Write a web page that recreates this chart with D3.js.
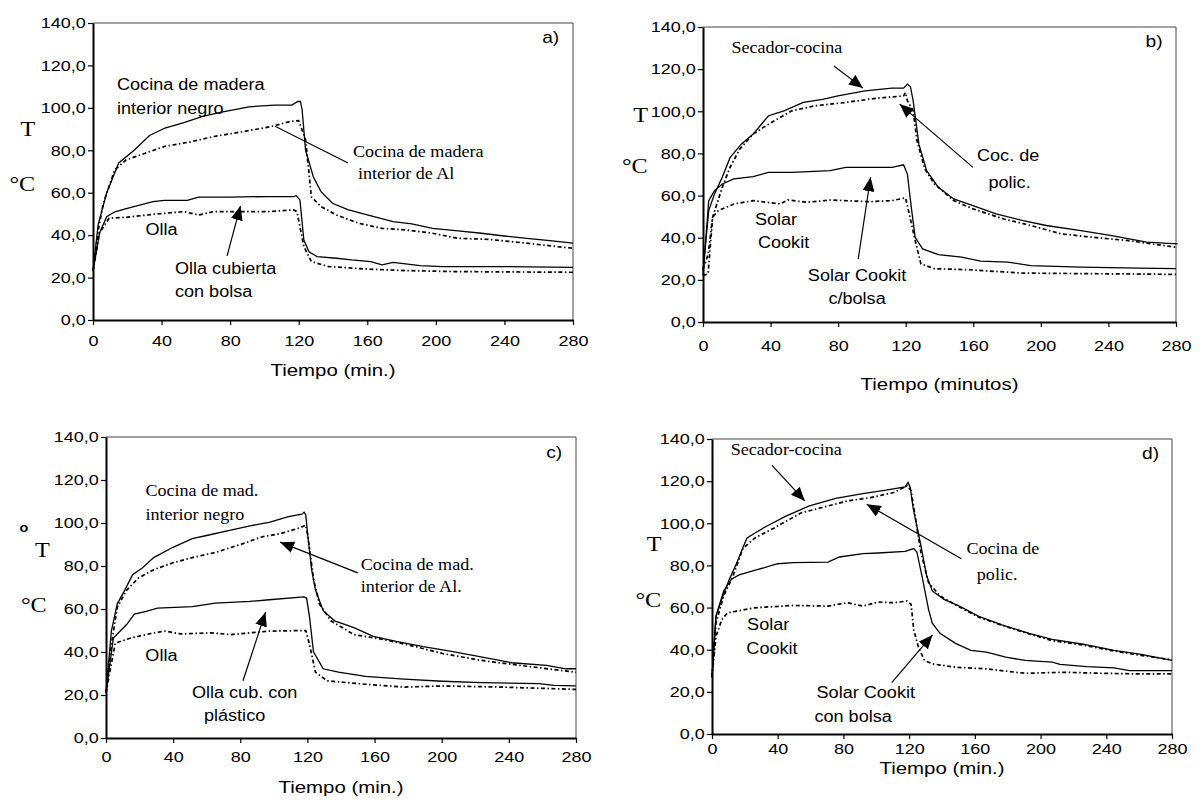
<!DOCTYPE html>
<html>
<head>
<meta charset="utf-8">
<script src="https://cdn.jsdelivr.net/npm/d3@7/dist/d3.min.js"></script>
<style>
  body { margin: 0; background: #fff; }
  svg { display: block; }
</style>
</head>
<body>
<svg id="chart" width="1203" height="802"></svg>
<script>
// ticks
var xTicks = [0, 40, 80, 120, 160, 200, 240, 280];
var yTicks = [0, 20, 40, 60, 80, 100, 120, 140];

// a) cocina de madera / olla  -- [minutos, °C]
var madNegroA = [[0,23],[3,45],[8,60],[15,74],[24,80],[33,87],[42,90.5],[53,93],[64,96],[75,98],[91,100.5],[106,101.3],[116,101.3],[119.5,103],[121,103],[122,99],[124,80],[128.5,67.5],[133,60.5],[139.7,55],[148.6,52],[160,49.5],[175,46.4],[186,45.3],[198,43.2],[213,42],[226.5,40.9],[240,39.6],[253,38.5],[266.5,37.4],[280,36.2]];
var madAlA = [[0,23],[3,42],[6,55],[12.7,70.8],[19.4,75.5],[30.5,78.6],[41.6,81.8],[57,84],[70.6,86.5],[88.4,88.9],[104,91.2],[115,93.6],[120,94],[124,85],[127.4,58],[133,53.5],[142,49.5],[155,45.6],[168.6,43.2],[182,42.5],[198,40.9],[213,38.5],[231,38],[253,36.2],[280,33.8]];
var ollaA = [[0,23],[3.8,41],[8,48.7],[12.7,51],[21.6,53],[35,55.8],[41.6,56.4],[55,56.4],[61.7,57.9],[79.5,57.9],[101.8,58.2],[117,58.2],[118.5,58.6],[120.7,56.6],[123,37.7],[126,32.2],[130.7,29.9],[142,29.1],[150.8,28.3],[162,27.5],[168.6,26],[175,27.2],[190.8,25.6],[204,25.2],[235,25.2],[280,24.8]];
var ollaBolsaA = [[0,23],[3.8,41],[9.4,48],[19.4,48.4],[35,49.8],[53,51.1],[61.7,49.5],[70.6,51.1],[102,51.1],[117,51.9],[119,51],[123,34.6],[127.4,27.5],[137.5,25.2],[160,24],[182,23.3],[213,22.8],[280,22.5]];

// b) secador-cocina / policarbonato / solar cookit
var secadorB = [[0,24],[3.4,52.9],[6.8,60.8],[11.4,68.7],[16,78],[22.8,84.5],[29.7,89.2],[38.8,97.9],[47.9,100.2],[59.4,104.2],[70.8,105.7],[79.9,107.3],[95.9,109.7],[111.9,111],[118.7,111],[121,112.9],[122.8,111.6],[124.4,105],[127.8,84.4],[132.4,71.8],[139.3,63.9],[148.4,58.4],[159.8,55.2],[173.5,51.3],[189.5,48.1],[203.2,45.8],[223.7,43.4],[242,41],[262.6,37.9],[281,37.1]];
var policB = [[0,25],[3,32],[5.7,49.7],[11.4,63.9],[16,73.4],[21.7,82],[29.7,89.2],[38.8,93.9],[52.5,100.2],[66.2,102.6],[84.5,104.2],[102.7,106.2],[118.7,107.3],[119.9,108.9],[121,105],[124.4,100.2],[126.7,86],[131.3,72.6],[137,65.5],[148.4,57.6],[159.8,53.7],[178,48.9],[194,45.8],[212.3,41.8],[230.6,40.2],[251,38.7],[280,35.5]];
var cookitB = [[0,22],[3.4,57.6],[6.8,62.3],[11.4,65.5],[18.3,67.9],[29.7,69],[38.8,71],[52.5,71],[75.3,71.8],[84.5,73.4],[111.9,73.4],[118.7,74.6],[121,70.2],[123.3,54.4],[125.6,40.2],[130,34.7],[139.3,32],[153,30.8],[164.4,28.9],[180.4,28.4],[194,26.8],[223.7,26],[258,25.6],[280,25.3]];
var cookitBolsaB = [[0,22],[3,22.9],[5.7,49.7],[9.1,52.9],[18.3,56],[29.7,57.6],[45.7,56],[50.2,57.9],[61.6,56.8],[75.3,57.9],[98.2,57.1],[111.9,57.6],[119.9,58.9],[122.1,51.3],[125.6,38.7],[129,27.6],[137,25.3],[157.5,24.8],[189.5,23.2],[235,22.9],[280,22.6]];

// c) cocina de madera / olla con plastico
var madNegroC = [[0,21],[3.2,49.7],[6.7,62.4],[11.2,68.8],[15.8,76],[21.6,79.1],[28.4,83.9],[39.9,88.7],[51.4,92.7],[60.6,94.3],[74.3,96.7],[85.8,98.7],[97.2,100.3],[108.7,103],[116.7,104.1],[118,105],[119,103.8],[120.2,94.3],[122.5,78.3],[124.8,68.8],[129.4,59.2],[136.2,54.5],[147.7,51.3],[159.2,47.3],[172.9,44.9],[189,42.5],[205,40.4],[223.4,37.7],[241.7,35],[262.4,33.8],[273.9,32.2],[280,32.2]];
var madAlC = [[0,21],[3.2,43.3],[6.7,60.8],[12.4,68.8],[19.3,74.4],[28.4,78.3],[39.9,81.5],[51.4,83.9],[65.1,86.3],[81.2,90.3],[92.7,93.5],[104.1,95.1],[115.6,97.8],[119,99],[120.2,94.3],[123.7,73.6],[127.1,62.4],[134,54.5],[147.7,48.1],[166.1,45.7],[184.4,42.5],[200.5,39.3],[223.4,36.1],[246.4,33.8],[280,30.6]];
var ollaC = [[0,21],[4.4,46.5],[12.4,52.9],[16.9,57.6],[23.9,58.9],[30.7,60.4],[51.4,61.1],[65.1,62.7],[85.8,63.5],[97.2,64.3],[117.9,65.6],[119.5,65.1],[121.3,56],[123.6,40.1],[129.4,32.2],[138.5,30.6],[154.6,28.7],[177.5,27.4],[200.5,26.4],[223.4,25.8],[257.8,25.3],[267,24.5],[280,24.2]];
var ollaPlasticoC = [[0,21],[5.5,44.1],[14.7,46.5],[28.4,48.9],[35.3,49.7],[44.5,48.4],[62.8,48.9],[74.3,48.1],[97.2,49.7],[119,50],[121.3,43.3],[124.8,30.6],[131.7,26.6],[154.6,25],[177.5,23.7],[200.5,24.2],[234.9,23.7],[280,22.6]];

// d) secador-cocina / policarbonato / solar cookit
var secadorD = [[0,26.9],[2.4,55.8],[5.9,63.9],[10.6,73.5],[15.3,81.6],[21.2,92.9],[25.9,95.3],[32.9,98.5],[44.7,103.3],[58.8,108.1],[75.3,111.8],[91.8,114.1],[105.9,115.7],[117.6,117.3],[119.3,119.4],[120.7,117],[122.4,107.3],[127.1,89.6],[130.6,75.2],[134.1,67.9],[141.2,63.9],[150.6,60.7],[162.4,55.8],[176.5,51.8],[193,47.8],[207.1,44.9],[225.9,42.6],[244.7,39.7],[261.2,37.8],[280,34.9]];
var policD = [[0,26.9],[2.4,52.6],[7.1,65.5],[12.9,75.2],[18.8,88],[25.9,92.9],[37.6,97.7],[54.1,104.9],[65.9,107.3],[82.4,110.6],[96.5,112.2],[110.6,114.6],[118.8,117.8],[121.2,115.4],[123.5,104.1],[127.1,86.4],[131.8,71.9],[138.8,65.5],[150.6,60.3],[162.4,55.4],[178.8,51],[193,47.5],[207.1,44.3],[225.9,42.2],[244.7,39.4],[261.2,37.3],[280,35.2]];
var cookitD = [[0,26.9],[2.4,55.8],[7.1,67.9],[11.8,73.5],[16.5,75.5],[25.9,77.6],[40,80.8],[49.4,81.3],[70.6,81.6],[77.6,84],[91.8,85.6],[101.2,85.9],[117.6,86.7],[122.8,88],[124.7,86.4],[128.2,73.5],[131.8,59.1],[134.1,52.6],[138.8,47.8],[148.2,43],[157.6,39.7],[167.1,38.9],[178.8,36.5],[190.6,34.9],[207.1,34.1],[211.8,33],[228.2,32],[244.7,31.4],[254.1,30.1],[280,30.1]];
var cookitBolsaD = [[0,26.9],[2.4,46.2],[5.9,54.2],[9.4,57.5],[25.9,59.9],[49.4,61],[70.6,60.7],[82.4,62.3],[91.8,60.7],[101.2,62.6],[110.6,62.3],[118.8,63.1],[121.2,61.5],[122.8,49.4],[125.9,40.6],[129.4,34.9],[134.1,33.3],[148.2,31.7],[167.1,30.9],[190.6,28.8],[214.1,29.3],[237.6,28.8],[261.2,28.5],[280,28.5]];

var SANS = "'Liberation Sans', Arial, sans-serif";
var SERIF = "'Liberation Serif', 'Times New Roman', serif";
var SX = 1.2; // the original figure is stretched horizontally

/* panels: box in page pixels, notes placed in data units */
var panels = [
    { id: "a", box: [93, 23, 573, 320], title: "Tiempo (min.)", tickPad: 10, titleY: 50,
      solid: [madNegroA, ollaA], dashed: [madAlA, ollaBolsaA],
      unit: { T: [-65, 90.2], C: [-70.7, 64.6] },
      notes: [
          { t: 14, v: 110.9, s: "Cocina de madera" }, { t: 14, v: 99.9, s: "interior negro" },
          { t: 151.7, v: 79.7, s: "Cocina de madera", serif: true }, { t: 154.6, v: 69.3, s: "interior de Al", serif: true },
          { t: 40, v: 42.6, s: "Olla", anchor: "middle" },
          { t: 47.8, v: 24.5, s: "Olla cubierta" }, { t: 47.8, v: 13.5, s: "con bolsa" }
      ],
      lines: [{ from: [148.8, 74], to: [106.2, 91.3], head: false }, { from: [78.2, 30.2], to: [86, 53.7], head: true }] },
    { id: "b", box: [703, 27, 1176, 322], title: "Tiempo (minutos)", tickPad: 13, titleY: 62,
      solid: [secadorB, cookitB], dashed: [policB, cookitBolsaB],
      unit: { T: [-62.4, 98.7], C: [-68.2, 74.2] },
      notes: [
          { t: 16.8, v: 130.2, s: "Secador-cocina", serif: true },
          { t: 162.2, v: 78.9, s: "Coc. de" }, { t: 169, v: 66.3, s: "polic." },
          { t: 43.2, v: 48.9, s: "Solar", anchor: "middle" }, { t: 47.7, v: 37.9, s: "Cookit", anchor: "middle" },
          { t: 91.2, v: 22.1, s: "Solar Cookit", anchor: "middle" }, { t: 91.2, v: 11.1, s: "c/bolsa", anchor: "middle" }
      ],
      lines: [{ from: [77.5, 121.5], to: [94.7, 111], head: true }, { from: [159.8, 73.4], to: [116.4, 103.4], head: true },
              { from: [91.9, 30], to: [99.2, 68.7], head: true }] },
    { id: "c", box: [106, 437, 576, 738], title: "Tiempo (min.)", tickPad: 8, titleY: 49,
      solid: [madNegroC, ollaC], dashed: [madAlC, ollaPlasticoC],
      unit: { T: [-63.7, 87.9], C: [-72.2, 62.4], o: [-82.2, 97.8] },
      notes: [
          { t: 23.5, v: 115, s: "Cocina de mad.", serif: true }, { t: 23.5, v: 103.9, s: "interior negro", serif: true },
          { t: 151.8, v: 80.7, s: "Cocina de mad.", serif: true }, { t: 151.8, v: 70.7, s: "interior de Al.", serif: true },
          { t: 33, v: 38.6, s: "Olla", anchor: "middle" },
          { t: 82.6, v: 21, s: "Olla cub. con", anchor: "middle" }, { t: 76.6, v: 10.7, s: "plástico", anchor: "middle" }
      ],
      lines: [{ from: [150, 76.8], to: [103.7, 91.1], head: true }, { from: [81.6, 26.6], to: [95, 58.5], head: true }] },
    { id: "d", box: [712, 439, 1172, 734], title: "Tiempo (min.)", tickPad: 4, titleY: 34,
      solid: [secadorD, cookitD], dashed: [policD, cookitBolsaD],
      unit: { T: [-57.9, 90.5], C: [-63.7, 63.9] },
      notes: [
          { t: 11.4, v: 135, s: "Secador-cocina", serif: true },
          { t: 154.9, v: 88, s: "Cocina de", serif: true }, { t: 161.2, v: 75.9, s: "polic.", serif: true },
          { t: 34.2, v: 51.8, s: "Solar", anchor: "middle" }, { t: 36.5, v: 40.5, s: "Cookit", anchor: "middle" },
          { t: 93.6, v: 19.6, s: "Solar Cookit", anchor: "middle" }, { t: 85.9, v: 8.4, s: "con bolsa", anchor: "middle" }
      ],
      lines: [{ from: [36.5, 127.5], to: [56.5, 110.6], head: true }, { from: [151.8, 83.2], to: [94.2, 109], head: true },
              { from: [109.4, 24.4], to: [134.2, 47], head: true }] }
];

var svg = d3.select("#chart");

svg.append("defs").append("marker")
    .attr("id", "head")
    .attr("viewBox", "0 0 14 12")
    .attr("refX", 14).attr("refY", 6)
    .attr("markerWidth", 14).attr("markerHeight", 12)
    .attr("markerUnits", "userSpaceOnUse")
    .attr("orient", "auto")
  .append("path").attr("d", "M0,0L14,6L0,12Z").attr("fill", "#000");

function txt(g, x, y, s, o) {
    o = o || {};
    var sx = o.sx || SX;
    return g.append("text")
        .attr("transform", "translate(" + x + "," + y + ") scale(" + sx + ",1)")
        .attr("dy", "0.35em")
        .attr("text-anchor", o.anchor || "start")
        .attr("font-weight", o.bold ? "bold" : null)
        .style("font-family", o.serif ? SERIF : SANS)
        .style("font-size", (o.size || 15) + "px")
        .attr("fill", "#000")
        .text(s);
}

var fmt = function (d) { return d3.format(".1f")(d).replace(".", ","); };

panels.forEach(function (p) {
    var x = d3.scaleLinear().domain([0, 280]).range([p.box[0], p.box[2]]);
    var y = d3.scaleLinear().domain([0, 140]).range([p.box[3], p.box[1]]);
    var g = svg.append("g").attr("class", "panel-" + p.id);

    // thin frame top / right
    g.append("path")
        .attr("d", "M" + x(0) + "," + y(140) + "H" + x(280) + "V" + y(0))
        .attr("fill", "none").attr("stroke", "#444").attr("stroke-width", 1);

    var line = d3.line().x(function (d) { return x(d[0]); }).y(function (d) { return y(d[1]); });

    p.dashed.forEach(function (s) {
        g.append("path").datum(s).attr("d", line)
            .attr("fill", "none").attr("stroke", "#000").attr("stroke-width", 1.7)
            .attr("stroke-dasharray", "4,2.5,1.5,2.5");
    });
    p.solid.forEach(function (s) {
        g.append("path").datum(s).attr("d", line)
            .attr("fill", "none").attr("stroke", "#000").attr("stroke-width", 1.3);
    });

    var ax = g.append("g").attr("transform", "translate(" + x(0) + ",0)")
        .call(d3.axisLeft(y).tickValues(yTicks).tickFormat(fmt).tickSize(5).tickPadding(1).tickSizeOuter(0));
    var bx = g.append("g").attr("transform", "translate(0," + y(0) + ")")
        .call(d3.axisBottom(x).tickValues(xTicks).tickFormat(d3.format("d")).tickSize(5).tickPadding(p.tickPad).tickSizeOuter(0));
    [ax, bx].forEach(function (a) {
        a.select(".domain").attr("stroke-width", 2);
        a.selectAll(".tick line").attr("stroke-width", 1.2);
        a.selectAll(".tick text")
            .style("font-family", SANS).style("font-size", "15px")
            .attr("transform", "scale(" + SX + ",1)");
    });

    txt(g, (x(0) + x(280)) / 2, y(0) + p.titleY, p.title, { anchor: "middle", size: 17 });
    txt(g, x(267), y(133), p.id + ")", { anchor: "middle", size: 16 });

    txt(g, x(0) + p.unit.T[0], y(p.unit.T[1]), "T", { anchor: "middle", serif: true, size: 22, sx: 1.1 });
    txt(g, x(0) + p.unit.C[0], y(p.unit.C[1]), "°C", { anchor: "middle", serif: true, size: 22, sx: 1.1 });
    if (p.unit.o) txt(g, x(0) + p.unit.o[0], y(p.unit.o[1]), "o", { anchor: "middle", bold: true, size: 12 });

    p.notes.forEach(function (n) {
        txt(g, x(n.t), y(n.v), n.s, { anchor: n.anchor, serif: n.serif, size: 16, sx: 1.13 });
    });

    p.lines.forEach(function (l) {
        g.append("line")
            .attr("x1", x(l.from[0])).attr("y1", y(l.from[1]))
            .attr("x2", x(l.to[0])).attr("y2", y(l.to[1]))
            .attr("stroke", "#000").attr("stroke-width", 1.2)
            .attr("marker-end", l.head ? "url(#head)" : null);
    });
});
</script>
</body>
</html>
